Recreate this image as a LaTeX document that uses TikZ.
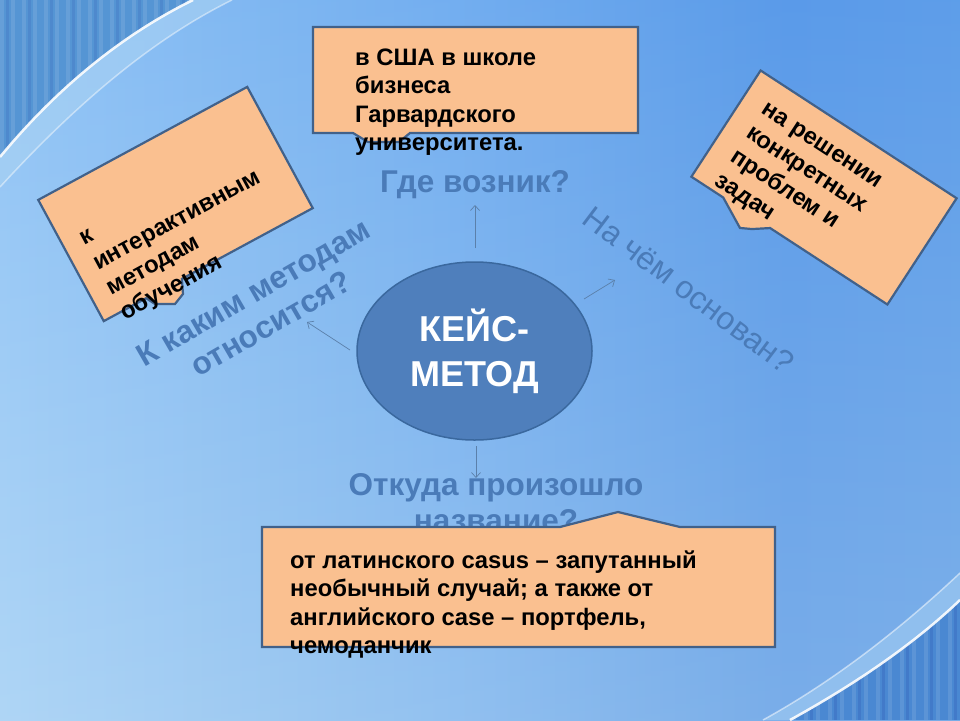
\documentclass[tikz,border=0pt]{standalone}
\usepackage{fontspec}
\setmainfont{Liberation Sans}
\usetikzlibrary{arrows.meta,shapes.geometric}
\definecolor{boxfill}{HTML}{FAC090}
\definecolor{boxline}{HTML}{41618A}
\definecolor{ellfill}{HTML}{4F7FBC}
\definecolor{ellline}{HTML}{3A689E}
\definecolor{qcol}{HTML}{4A7BB8}
\definecolor{arrcol}{HTML}{5B80AA}
\definecolor{bg0}{HTML}{72AAE4}
\definecolor{bg1}{HTML}{8EC0F0}
\definecolor{bg2}{HTML}{A4D0F4}
\definecolor{bg3}{HTML}{84B9EE}
\definecolor{bg4}{HTML}{67A2E6}
\definecolor{bg5}{HTML}{78B0EA}
\definecolor{cornerA}{HTML}{5595D4}
\definecolor{cornerB}{HTML}{4A88D2}
\definecolor{bandcol}{HTML}{A9D2F3}
\pgfdeclarehorizontalshading{bgsh}{100bp}{color(0bp)=(bg0); color(8bp)=(bg1); color(25bp)=(bg2); color(48bp)=(bg3); color(66bp)=(bg4); color(100bp)=(bg5)}
\begin{document}
\begin{tikzpicture}[x=1pt,y=-1pt,
  boxst/.style={fill=boxfill, draw=boxline, line width=2.2pt, line join=miter},
  boxtext/.style={font=\bfseries\fontsize{23.8}{28.5}\selectfont, align=left, anchor=north west, inner sep=0pt, text=black},
  qlabel/.style={font=\bfseries\fontsize{31.5}{36}\selectfont, text=qcol, align=center, inner sep=0pt},
  arr/.style={draw=arrcol, line width=0.7pt, -{Straight Barb[length=5pt,width=9pt]}}
]
\useasboundingbox (0,0) rectangle (960,720);
% background
\fill[shading=bgsh] (0,0) rectangle (960,720);
\shade[top color=blue!60!cyan, bottom color=white, opacity=0.12] (0,0) rectangle (960,720);
% top-left corner
\fill[bandcol, opacity=0.6] (0,0) -- (232,0) .. controls (145,43) and (68,113) .. (0,187) -- cycle;
\fill[cornerA] (0,0) -- (193,0) .. controls (122,35) and (57,88) .. (0,157) -- cycle;
\begin{scope}
  \clip (0,0) -- (193,0) .. controls (122,35) and (57,88) .. (0,157) -- cycle;
  \foreach \x in {0,11,...,200} { \fill[white, opacity=0.10] (\x,0) rectangle (\x+4,160); }
  \foreach \x in {6,28,...,200} { \fill[blue!50!black, opacity=0.08] (\x,0) rectangle (\x+3,160); }
\end{scope}
\draw[white, opacity=0.45, line width=1.5pt] (232,0) .. controls (145,43) and (68,113) .. (0,187);
\draw[white, opacity=0.9, line width=2.5pt] (193,0) .. controls (122,35) and (57,88) .. (0,157);
% bottom-right corner
\fill[bandcol, opacity=0.5] (960,720) -- (763,720) .. controls (830,683) and (895,634) .. (960,573) -- cycle;
\fill[cornerB] (960,720) -- (790,720) .. controls (859,682) and (916,642) .. (960,600) -- cycle;
\begin{scope}
  \clip (960,720) -- (790,720) .. controls (859,682) and (916,642) .. (960,600) -- cycle;
  \foreach \x in {780,792,...,960} { \fill[white, opacity=0.10] (\x,590) rectangle (\x+4,720); }
  \foreach \x in {786,810,...,960} { \fill[blue!50!black, opacity=0.10] (\x,590) rectangle (\x+3,720); }
\end{scope}
\draw[white, opacity=0.5, line width=1.5pt] (960,573) .. controls (895,634) and (830,683) .. (763,720);
\draw[white, opacity=0.9, line width=2.5pt] (960,600) .. controls (916,642) and (859,682) .. (790,720);

% question labels
\node[qlabel, anchor=base] (qtop) at (475,192) {Где возник?};
\node[qlabel, rotate=-37, font=\fontsize{32}{36}\selectfont] (qright) at (689,290) {На чём основан?};
\node[qlabel, rotate=30] (qleft) at (262,308) {К каким методам\\относится?};
\node[qlabel, anchor=north] (qbottom) at (496,470) {\strut Откуда произошло\\название?};

% central ellipse
\node[ellipse, draw=ellline, fill=ellfill, line width=1.5pt, minimum width=235, minimum height=178,
      text=white, font=\bfseries\fontsize{36}{45}\selectfont, align=center] (core) at (474.5,351) {КЕЙС-\\МЕТОД};

% arrows
\coordinate (aU0) at (475,248); \coordinate (aU1) at (475,205);
\coordinate (aR0) at (584,299); \coordinate (aR1) at (615,280);
\coordinate (aL0) at (350,350); \coordinate (aL1) at (307,322);
\coordinate (aD0) at (476,446); \coordinate (aD1) at (476,478);
\draw[arr] (aU0) -- (aU1);
\draw[arr] (aR0) -- (aR1);
\draw[arr] (aL0) -- (aL1);
\draw[arr] (aD0) -- (aD1);

% top box
\draw[boxst] (313,27) -- (638,27) -- (638,133) -- (410,133) -- (399,142) -- (368,142) -- (353,133) -- (313,133) -- cycle;
\node[boxtext] (ttop) at (355,45) {\strut в США в школе\\бизнеса\\Гарвардского\\университета.};

% left box
\begin{scope}[shift={(175.5,204)}, rotate=28.4]
  \draw[boxst] (-118.8,-68.9) -- (118.8,-68.9) -- (118.8,68.9) -- (-30,68.9) -- (-36.2,82.7) -- (-48,87.7) -- (-65.6,78.2) -- (-70.6,68.9) -- (-118.8,68.9) -- cycle;
  \node[boxtext, rotate=28.4] (tleft) at (-100,-27) {\strut к\\интерактивным\\методам\\обучения};
\end{scope}

% right box
\begin{scope}[shift={(824,187.5)}, rotate=-33.1]
  \draw[boxst] (-117,-63.4) -- (117,-63.4) -- (117,63.4) -- (-23,63.4) -- (-37.6,74.1) -- (-48.3,79.8) -- (-79,63.4) -- (-117,63.4) -- cycle;
  \node[boxtext, rotate=-33.1] (tright) at (-94,-48) {\strut на решении\\конкретных\\проблем и\\задач};
\end{scope}

% bottom box
\draw[boxst] (262,527) -- (560,527) -- (618,512) -- (680,527) -- (775,527) -- (775,647) -- (262,647) -- cycle;
\node[boxtext] (tbottom) at (290,548) {\strut от латинского casus – запутанный\\необычный случай; а также от\\английского case – портфель,\\чемоданчик};
\end{tikzpicture}
\end{document}
